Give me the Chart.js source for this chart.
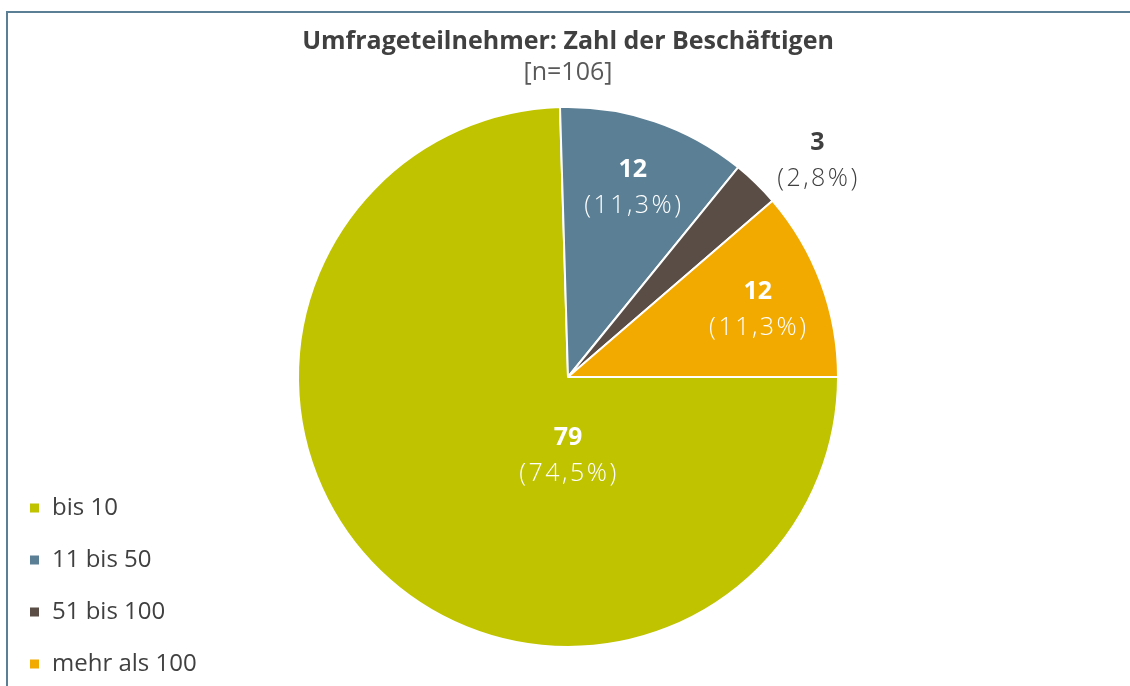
<!DOCTYPE html>
<html>
<head>
<meta charset="utf-8">
<script src="https://cdn.jsdelivr.net/npm/chart.js@4"></script>
<style>
  html, body { margin: 0; padding: 0; overflow: hidden; background: #fff; }
  #frame { position: absolute; left: 6px; top: 11px; right: 0; bottom: 0;
           border-top: 2px solid #5b7f95; border-left: 2px solid #5b7f95; }
  #wrap { position: absolute; left: 0; top: 0; width: 1130px; height: 704px; }
</style>
</head>
<body>
<div id="frame"></div>
<div id="wrap"><canvas id="myChart"></canvas></div>
<script>
  const categories = ['bis 10', '11 bis 50', '51 bis 100', 'mehr als 100'];
  const counts = [79, 12, 3, 12];
  const colors = ['#bfc300', '#5b7f95', '#594d46', '#f2a900'];

  // label placement: angle from 12 o'clock (null = middle of slice), distance as part of radius
  const labelAngle = [180, null, 48.7, null];
  const labelDist = [0.28, 0.75, 1.23, 0.75];
  const labelColor = ['#fff', '#fff', '#404040', '#fff'];

  Chart.defaults.font.family = '"Open Sans", sans-serif';
  Chart.defaults.color = '#404040';

  const total = counts.reduce((a, b) => a + b, 0);

  // legend width, so the pie can be centred with the right padding
  const legendFont = 24, legendBox = 11, legendPad = 28;
  const mctx = document.createElement('canvas').getContext('2d');
  mctx.font = legendFont + 'px "Open Sans"';
  const widest = Math.max(...categories.map(c => mctx.measureText(c).width));
  const legendWidth = legendPad + legendBox + legendFont / 2 + widest + 10;
  const padLeft = 1;
  const padRight = padLeft + legendWidth - 6;

  const sliceLabels = {
    id: 'sliceLabels',
    afterDatasetsDraw(chart) {
      const ctx = chart.ctx;
      const meta = chart.getDatasetMeta(0);
      meta.data.forEach((arc, i) => {
        const p = arc.getProps(['x', 'y', 'startAngle', 'endAngle', 'outerRadius'], true);
        let ang = (p.startAngle + p.endAngle) / 2;
        if (labelAngle[i] !== null) ang = (labelAngle[i] - 90) * Math.PI / 180;
        const r = p.outerRadius * labelDist[i];
        const cx = p.x + Math.cos(ang) * r;
        const cy = p.y + Math.sin(ang) * r + 3;
        const pct = (counts[i] / total * 100).toFixed(1).replace('.', ',');
        ctx.save();
        ctx.textAlign = 'center';
        ctx.textBaseline = 'middle';
        ctx.fillStyle = labelColor[i];
        ctx.font = 'bold 25px "Open Sans"';
        ctx.fillText(String(counts[i]), cx, cy - 18);
        ctx.font = '300 25px "Open Sans"';
        ctx.letterSpacing = '2.5px';
        ctx.fillText('(' + pct + '%)', cx + 1, cy + 18);
        ctx.restore();
      });
    }
  };

  const data = {
    labels: categories,
    datasets: [{
      data: counts,
      backgroundColor: colors,
      borderColor: '#ffffff',
      borderWidth: 2
    }]
  };

  const options = {
    responsive: true,
    maintainAspectRatio: false,
    animation: false,
    rotation: 90,
    radius: 270,
    layout: { padding: { left: padLeft, right: padRight, top: 0, bottom: 0 } },
    plugins: {
      tooltip: { enabled: false },
      title: {
        display: true,
        fullSize: false,
        text: 'Umfrageteilnehmer: Zahl der Beschäftigen',
        color: '#404040',
        font: { size: 25, weight: 'bold' },
        padding: { top: 27, bottom: -7 }
      },
      subtitle: {
        display: true,
        fullSize: false,
        text: '[n=106]',
        color: '#595959',
        font: { size: 25 },
        padding: { top: 8, bottom: -38 }
      },
      legend: {
        position: 'left',
        align: 'end',
        labels: {
          boxWidth: legendBox,
          boxHeight: legendBox,
          padding: legendPad,
          color: '#404040',
          font: { size: legendFont }
        }
      }
    }
  };

  const myChart = new Chart(document.getElementById('myChart'), {
    type: 'pie',
    data: data,
    options: options,
    plugins: [sliceLabels]
  });
</script>
</body>
</html>
